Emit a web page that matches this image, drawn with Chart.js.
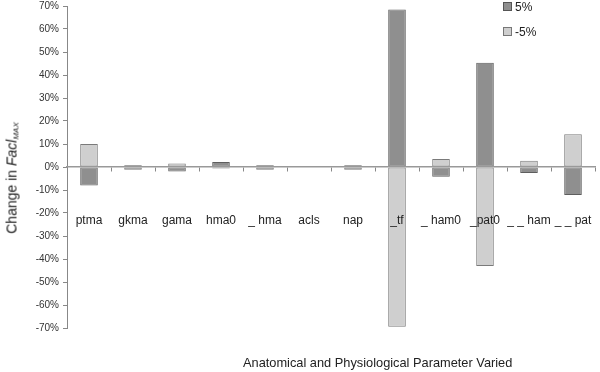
<!DOCTYPE html>
<html>
<head>
<meta charset="utf-8">
<script src="https://cdn.jsdelivr.net/npm/chart.js@4.4.1/dist/chart.umd.min.js"></script>
<style>
  html, body { margin: 0; padding: 0; background: #fff; }
  #wrap { position: relative; width: 600px; height: 372px; font-family: "Liberation Sans", Arial, sans-serif; color: #222; }
  #c { position: absolute; left: 0; top: 0; }
  .ytitle { position: absolute; left: 12px; top: 178px; transform: translate(-50%, -50%) rotate(-90deg); white-space: nowrap; font-size: 14px; }
  .ytitle sub { font-size: 8px; font-style: italic; vertical-align: -2px; }
  .xtitle { position: absolute; left: 243px; top: 355px; white-space: nowrap; font-size: 12.8px; }
  .leg { position: absolute; left: 503px; font-size: 12px; line-height: 14px; white-space: nowrap; }
  .leg span.sw { display: inline-block; width: 7px; height: 7px; border: 1px solid #555; margin-right: 3px; vertical-align: 0px; }
</style>
</head>
<body>
<div id="wrap">
  <canvas id="c" width="600" height="372"></canvas>
  <div class="ytitle">Change in <i>Facl</i><sub>MAX</sub></div>
  <div class="xtitle">Anatomical and Physiological Parameter Varied</div>
  <div class="leg" style="top:0px"><span class="sw" style="background:#8f8f8f"></span>5%</div>
  <div class="leg" style="top:25px"><span class="sw" style="background:#cfcfcf;border-color:#777"></span>-5%</div>
</div>
<script>
const categories = ["ptma", "gkma", "gama", "hma0", "_ hma", "acls", "nap", "_tf", "_ ham0", "_pat0", "_ _ ham", "_ _ pat"];
const plus5 = [-8, 0.8, -2, 2.2, 0.8, 0, 0.8, 68.5, -4.2, 45.3, -2.6, -12.2];
const minus5 = [10, -1.2, 1.5, -0.6, -1.2, 0, -1.2, -69.5, 3.5, -43, 2.7, 14.2];
const seriesNames = ["5%", "-5%"];
const yTicks = [-70, -60, -50, -40, -30, -20, -10, 0, 10, 20, 30, 40, 50, 60, 70];

new Chart(document.getElementById('c'), {
  type: 'bar',
  data: {
    labels: categories,
    datasets: [
      { label: seriesNames[1], data: minus5, backgroundColor: '#cfcfcf', borderColor: '#7a7a7a', borderWidth: 1, borderSkipped: false },
      { label: seriesNames[0], data: plus5, backgroundColor: '#8f8f8f', borderColor: '#5e5e5e', borderWidth: 1, borderSkipped: false }
    ]
  },
  options: {
    responsive: false,
    animation: false,
    devicePixelRatio: 1,
    layout: { padding: { left: 0, right: 5, top: 6, bottom: 44 } },
    datasets: { bar: { grouped: false, barPercentage: 0.4, categoryPercentage: 1 } },
    plugins: { legend: { display: false }, tooltip: { enabled: false } },
    scales: {
      x: {
        position: { y: 0 },
        offset: true,
        afterFit: s => { s.paddingLeft = 0; s.paddingRight = 0; },
        grid: { display: true, offset: true, drawOnChartArea: false, tickLength: 4, color: '#888', z: 1 },
        border: { display: true, color: '#999', width: 1.5, z: 1 },
        ticks: { z: 1, padding: 42, color: '#222', font: { family: 'Liberation Sans', size: 12 }, maxRotation: 0, autoSkip: false }
      },
      y: {
        min: -70, max: 70,
        afterFit: s => { s.width = 67; s.paddingTop = 0; s.paddingBottom = 0; },
        afterBuildTicks: s => { s.ticks = yTicks.map(v => ({ value: v })); },
        grid: { display: true, drawOnChartArea: false, tickLength: 4, color: '#888' },
        border: { display: true, color: '#888' },
        ticks: { padding: 4, color: '#333', font: { family: 'Liberation Sans', size: 10 }, callback: v => v + '%' }
      }
    }
  }
});
</script>
</body>
</html>
